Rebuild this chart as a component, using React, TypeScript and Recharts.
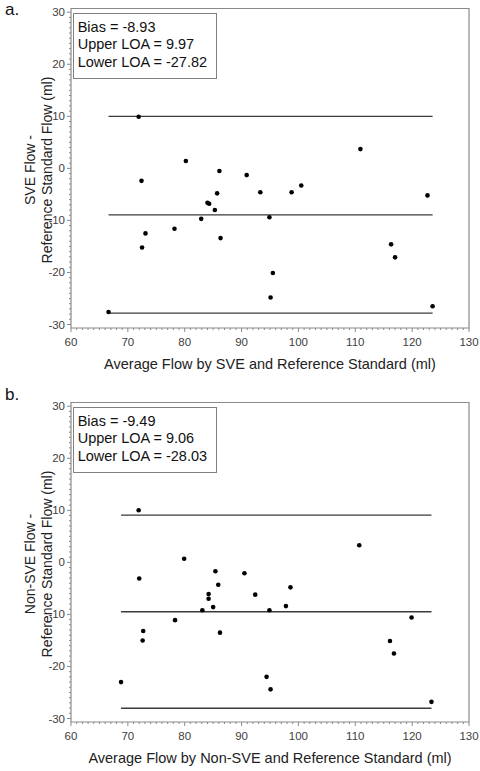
import React from 'react'
import { ComposedChart, Scatter, XAxis, YAxis, ReferenceLine, ReferenceArea } from 'recharts'

// a. SVE vs reference standard
const sveAvg = [71.9, 72.4, 80.2, 86.1, 90.9, 93.3, 85.7, 84.0, 84.3, 85.3, 82.9, 94.9, 78.2, 73.1, 72.5, 86.3, 95.5, 95.1, 66.6, 98.8, 100.5, 110.9, 122.7, 116.3, 117.0, 123.6]
const sveDiff = [9.9, -2.4, 1.4, -0.5, -1.3, -4.6, -4.8, -6.6, -6.8, -8.0, -9.7, -9.4, -11.6, -12.5, -15.2, -13.4, -20.1, -24.8, -27.6, -4.6, -3.3, 3.7, -5.2, -14.6, -17.1, -26.5]
const sveBias = -8.93
const sveUpper = 9.97
const sveLower = -27.82

// b. non-SVE vs reference standard
const nonSveAvg = [71.9, 72.0, 79.9, 85.4, 90.5, 85.9, 92.4, 84.2, 84.2, 85.0, 83.1, 94.9, 78.3, 72.7, 72.6, 86.2, 68.8, 94.4, 95.1, 97.8, 98.6, 110.7, 119.9, 116.1, 116.8, 123.4]
const nonSveDiff = [10.0, -3.1, 0.7, -1.7, -2.1, -4.3, -6.2, -6.1, -7.0, -8.6, -9.2, -9.2, -11.1, -13.2, -15.0, -13.5, -23.0, -22.0, -24.4, -8.4, -4.8, 3.3, -10.6, -15.1, -17.5, -26.8]
const nonSveBias = -9.49
const nonSveUpper = 9.06
const nonSveLower = -28.03

const xMajor = [60, 70, 80, 90, 100, 110, 120, 130]
const yMajor = [-30, -20, -10, 0, 10, 20, 30]
// minor ticks every unit
const xTicks = Array.from({ length: 71 }, (_, i) => 60 + i)
const yTicks = Array.from({ length: 61 }, (_, i) => -30 + i)
const X_DOMAIN: [number, number] = [60, 130]
const Y_DOMAIN: [number, number] = [-30.67, 30.71]

const FONT = '"Liberation Sans", Arial, sans-serif'
const AXIS = '#8a8a8a'
const LINE = '#3a3a3a'
const TICK_TEXT = '#404040'

function YTick(props: any) {
  const { x, y, payload } = props
  const v = payload.value
  if (!yMajor.includes(v)) return <line x1={x - 2} x2={x} y1={y} y2={y} stroke={AXIS} />
  return (
    <g>
      <line x1={x - 4} x2={x} y1={y} y2={y} stroke={AXIS} />
      <text x={x - 6} y={y} dy={4} textAnchor="end" fontSize={11.5} fill={TICK_TEXT} fontFamily={FONT}>
        {v}
      </text>
    </g>
  )
}

function XTick(props: any) {
  const { x, y, payload } = props
  const v = payload.value
  if (!xMajor.includes(v)) return <line x1={x} x2={x} y1={y} y2={y + 2} stroke={AXIS} />
  return (
    <g>
      <line x1={x} x2={x} y1={y} y2={y + 4} stroke={AXIS} />
      <text x={x} y={y} dy={18} textAnchor="middle" fontSize={11.5} fill={TICK_TEXT} fontFamily={FONT}>
        {v}
      </text>
    </g>
  )
}

interface PanelProps {
  avg: number[]
  diff: number[]
  bias: number
  upper: number
  lower: number
  yTitle: string[]
  xTitle: string
}

function Panel({ avg, diff, bias, upper, lower, yTitle, xTitle }: PanelProps) {
  const points = avg.map((x, i) => ({ x, y: diff[i] }))
  const lo = Math.min(...avg)
  const hi = Math.max(...avg)

  return (
    <div style={{ position: 'relative', width: 480, height: 377, fontFamily: FONT }}>
      <ComposedChart width={480} height={377} margin={{ top: 8.5, right: 11, bottom: 0, left: 0 }}>
        <XAxis
          dataKey="x"
          type="number"
          domain={X_DOMAIN}
          ticks={xTicks}
          interval={0}
          tick={XTick}
          tickLine={false}
          tickSize={0}
          tickMargin={0}
          axisLine={false}
          height={49}
          label={{
            content: (p: any) => {
              const vb = p.viewBox
              return (
                <text x={vb.x + vb.width / 2} y={vb.y + 41} textAnchor="middle" fontSize={14.5} fill="#222" fontFamily={FONT}>
                  {xTitle}
                </text>
              )
            },
          }}
        />
        <YAxis
          dataKey="y"
          type="number"
          domain={Y_DOMAIN}
          ticks={yTicks}
          interval={0}
          tick={YTick}
          tickLine={false}
          tickSize={0}
          tickMargin={0}
          axisLine={false}
          width={71}
          allowDataOverflow
        />
        <ReferenceArea x1={X_DOMAIN[0]} x2={X_DOMAIN[1]} y1={Y_DOMAIN[0]} y2={Y_DOMAIN[1]} fill="none" stroke={AXIS} strokeWidth={1.2} />
        {[upper, bias, lower].map((v) => (
          <ReferenceLine
            key={v}
            segment={[
              { x: lo, y: v },
              { x: hi, y: v },
            ]}
            stroke={LINE}
            strokeWidth={1.3}
          />
        ))}
        <Scatter
          data={points}
          fill="#000"
          isAnimationActive={false}
          shape={(p: any) => <circle cx={p.cx} cy={p.cy} r={2.3} fill="#000" />}
        />
      </ComposedChart>
      <div
        style={{
          position: 'absolute',
          left: 72.7,
          top: 12.7,
          width: 144.6,
          height: 66.6,
          boxSizing: 'border-box',
          border: '1px solid #808080',
          padding: '5px 0 0 4px',
          fontSize: 14.5,
          lineHeight: '17.5px',
          color: '#111',
          background: '#fff',
          whiteSpace: 'nowrap',
        }}
      >
        <div>Bias = {bias.toFixed(2)}</div>
        <div>Upper LOA = {upper.toFixed(2)}</div>
        <div>Lower LOA = {lower.toFixed(2)}</div>
      </div>
      <div
        style={{
          position: 'absolute',
          left: 38.5 - 150,
          top: 170 - 17,
          width: 300,
          height: 34,
          transform: 'rotate(-90deg)',
          textAlign: 'center',
          fontSize: 14,
          lineHeight: '17px',
          color: '#222',
        }}
      >
        {yTitle.map((t) => (
          <div key={t}>{t}</div>
        ))}
      </div>
    </div>
  )
}

const tagStyle: React.CSSProperties = {
  position: 'absolute',
  left: 5,
  fontFamily: FONT,
  fontSize: 17,
  color: '#111',
}

export default function App() {
  return (
    <div style={{ position: 'absolute', left: 0, top: 0, width: 480, height: 771, background: '#fff' }}>
      <div style={{ position: 'absolute', left: 0, top: 0 }}>
        <Panel
          avg={sveAvg}
          diff={sveDiff}
          bias={sveBias}
          upper={sveUpper}
          lower={sveLower}
          yTitle={['SVE Flow -', 'Reference Standard Flow (ml)']}
          xTitle="Average Flow by SVE and Reference Standard (ml)"
        />
      </div>
      <div style={{ position: 'absolute', left: 0, top: 394 }}>
        <Panel
          avg={nonSveAvg}
          diff={nonSveDiff}
          bias={nonSveBias}
          upper={nonSveUpper}
          lower={nonSveLower}
          yTitle={['Non-SVE Flow -', 'Reference Standard Flow (ml)']}
          xTitle="Average Flow by Non-SVE and Reference Standard (ml)"
        />
      </div>
      <div style={{ ...tagStyle, top: 0 }}>a.</div>
      <div style={{ ...tagStyle, top: 385 }}>b.</div>
    </div>
  )
}
